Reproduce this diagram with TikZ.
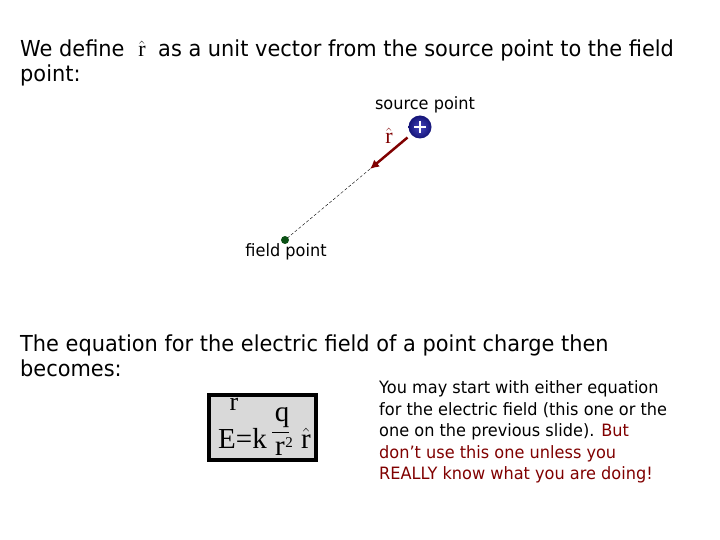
\documentclass[tikz,border=0pt]{standalone}
\usepackage{fontspec}
\setmainfont[FakeStretch=0.95]{DejaVu Sans}
\newfontfamily\timesf{Liberation Serif}
\usetikzlibrary{arrows.meta,calc}
\definecolor{darkred}{RGB}{128,0,0}
\definecolor{chargeblue}{RGB}{20,20,120}
\definecolor{chargelight}{RGB}{70,70,190}
\definecolor{fieldgreen}{RGB}{10,80,20}
\definecolor{boxgray}{RGB}{217,217,217}
\newcommand{\tm}[1]{\mbox{\timesf #1}}
\newcommand{\unitr}{$\hat{\tm{r}}$}
\tikzset{
  bigtext/.style={anchor=base west, inner sep=0pt, font=\fontsize{22}{26}\selectfont},
  smalltext/.style={anchor=base west, inner sep=0pt, font=\fontsize{17}{20}\selectfont},
  mathtext/.style={inner sep=0pt, font=\fontsize{22}{26}\selectfont},
  formtext/.style={inner sep=0pt, anchor=base, font=\timesf\fontsize{29}{30}\selectfont},
}

\begin{document}
\begin{tikzpicture}[x=1pt, y=-1pt]
  \useasboundingbox (0,0) rectangle (720,540);

  % heading
  \node[bigtext] (def1) at (20,57) {We define};
  \node[mathtext, anchor=base] (rhat) at (142,57) {\unitr};
  \node[bigtext] (def2) at (158,57) {as a unit vector from the source point to the field};
  \node[bigtext] (def3) at (20,82) {point:};

  % source and field points
  \coordinate (S) at (420,127);
  \coordinate (F) at (285,240);
  \coordinate (T) at (370,169);
  \node[smalltext, anchor=base] (srclabel) at (425,110) {source point};
  \draw[densely dashed, thin] (T) -- (F);
  \draw[darkred, line width=2.5pt, -{Latex[length=9pt,width=9pt]}] ($(S)!0.25!(T)$) -- (T);
  \shade[inner color=chargelight, outer color=chargeblue] (S) circle (11.5);
  \draw[white, line width=1.8pt] ($(S)+(-6,0)$) -- ($(S)+(6,0)$) ($(S)+(0,-6)$) -- ($(S)+(0,6)$);
  \node[mathtext, darkred, anchor=base] (rvec) at (389,144) {\unitr};
  \fill[fieldgreen] (F) circle (4);
  \node[smalltext, anchor=base] (fldlabel) at (286,256) {field point};

  % equation text
  \node[bigtext] (eq1) at (20,351) {The equation for the electric field of a point charge then};
  \node[bigtext] (eq2) at (20,376) {becomes:};

  % formula box
  \draw[line width=4pt, fill=boxgray] (209,395) rectangle (316,460);
  \node[formtext, anchor=base west] (Ek) at (218,448) {E=k};
  \node[formtext, font=\timesf\fontsize{26}{26}\selectfont] (rtop) at (234,410) {r};
  \draw[line width=1pt] (272,432) -- (289,432);
  \node[formtext] (num) at (282,421) {q};
  \node[formtext] (den) at (280,455) {r};
  \node[formtext, font=\timesf\fontsize{15}{15}\selectfont] (sq) at (289,447) {2};
  \node[formtext] (rh) at (306,448) {$\hat{\mbox{r}}$};

  % side note
  \node[smalltext] (n1) at (379,393) {You may start with either equation};
  \node[smalltext] (n2) at (379,415) {for the electric field (this one or the};
  \node[smalltext] (n3) at (379,436) {one on the previous slide). \textcolor{darkred}{But}};
  \node[smalltext, darkred] (n4) at (379,458) {don't use this one unless you};
  \node[smalltext, darkred] (n5) at (379,479) {REALLY know what you are doing!};
\end{tikzpicture}
\end{document}
